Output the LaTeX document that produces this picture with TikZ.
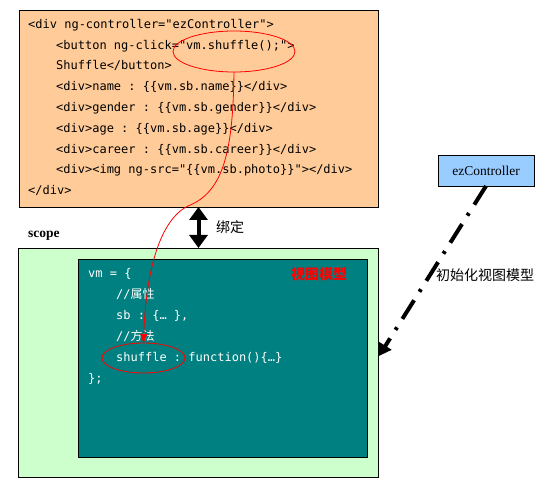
\documentclass[tikz,border=0pt]{standalone}
\usepackage{fontspec}
\setmainfont{Liberation Serif}
\setmonofont{DejaVu Sans Mono}
\newfontfamily\cjk{Noto Sans CJK SC}
\usetikzlibrary{shapes.geometric,arrows.meta}
\definecolor{htmlbg}{HTML}{FFCC99}
\definecolor{scopebg}{HTML}{CCFFCC}
\definecolor{vmbg}{HTML}{008080}
\definecolor{ctrlbg}{HTML}{99CCFF}
\begin{document}
\begin{tikzpicture}[x=1pt,y=-1pt,
  box/.style={draw=black,line width=0.9pt,inner sep=0pt,outer sep=0pt,anchor=north west},
  code/.style={anchor=base west,inner sep=0pt,font=\ttfamily\fontsize{12}{14}\selectfont},
  wcode/.style={code,text=white},
  redring/.style={draw=red,line width=0.8pt,ellipse,inner sep=0pt,outer sep=0pt},
  label/.style={inner sep=0pt,font=\cjk\fontsize{14}{16}\selectfont}]
\useasboundingbox (0,0) rectangle (557,489);
% boxes
\node[box,fill=htmlbg,minimum width=359pt,minimum height=197pt] (html) at (19,10) {};
\node[box,fill=scopebg,minimum width=360pt,minimum height=229pt] (scope) at (18,248) {};
\node[box,fill=vmbg,minimum width=289pt,minimum height=198pt] (vm) at (78,259) {};
\node[box,fill=ctrlbg,minimum width=96pt,minimum height=31pt,font=\fontsize{13.5}{15}\selectfont] (ctrl) at (438,155) {ezController};
% html code
\node[code] (h1) at (28,28.5) {<div ng-controller="ezController">};
\node[code] (h2) at (56,49.3) {<button ng-click="vm.shuffle();">};
\node[code] (h3) at (56,70) {Shuffle</button>};
\node[code] (h4) at (56,91) {<div>name : \{\{vm.sb.name\}\}</div>};
\node[code] (h5) at (56,111.7) {<div>gender : \{\{vm.sb.gender\}\}</div>};
\node[code] (h6) at (56,132.5) {<div>age : \{\{vm.sb.age\}\}</div>};
\node[code] (h7) at (56,153.2) {<div>career : \{\{vm.sb.career\}\}</div>};
\node[code] (h8) at (56,174) {<div><img ng-src="\{\{vm.sb.photo\}\}"></div>};
\node[code] (h9) at (28,194.5) {</div>};
% vm code
\node[wcode] (v1) at (88,277.7) {vm = \{};
\node[wcode] (v2) at (116,298.7) {//{\cjk 属性}};
\node[wcode] (v3) at (116,319.7) {sb : \{… \},};
\node[wcode] (v4) at (116,340.7) {//{\cjk 方法}};
\node[wcode] (v5) at (116,361.7) {shuffle : function()\{…\}};
\node[wcode] (v6) at (88,382.7) {\};};
% labels
\node[anchor=base west,inner sep=0pt,font=\bfseries\fontsize{13.5}{15}\selectfont] (scopelbl) at (28,237) {scope};
\node[label,anchor=west] (bind) at (216,227) {绑定};
\node[label,anchor=west] (init) at (436,275) {初始化视图模型};
\node[label,anchor=west,text=red,font=\cjk\bfseries\fontsize{14}{16}\selectfont] (vmlbl) at (291,274) {视图模型};
% red rings
\node[redring,minimum width=122pt,minimum height=41pt] (e1) at (234,51.5) {};
\node[redring,minimum width=83pt,minimum height=30pt] (e2) at (143.5,358) {};
% connectors
\draw[red,line width=0.8pt,-{Triangle[width=7pt,length=9pt]}]
  (e1.south) .. controls (233,150) and (224,192) .. (188,206)
  .. controls (160,220) and (146,270) .. (e2.north);
\draw[line width=4pt,{Triangle[width=18pt,length=13pt]}-{Triangle[width=18pt,length=13pt]}]
  (html.south) -- (html.south |- scope.north);
\coordinate (tip) at (379,356);
\draw[line width=4pt,dash pattern=on 22pt off 10pt on 3pt off 10pt,-{Triangle[width=14pt,length=12pt]}]
  (ctrl.south) -- (tip);
\end{tikzpicture}
\end{document}
